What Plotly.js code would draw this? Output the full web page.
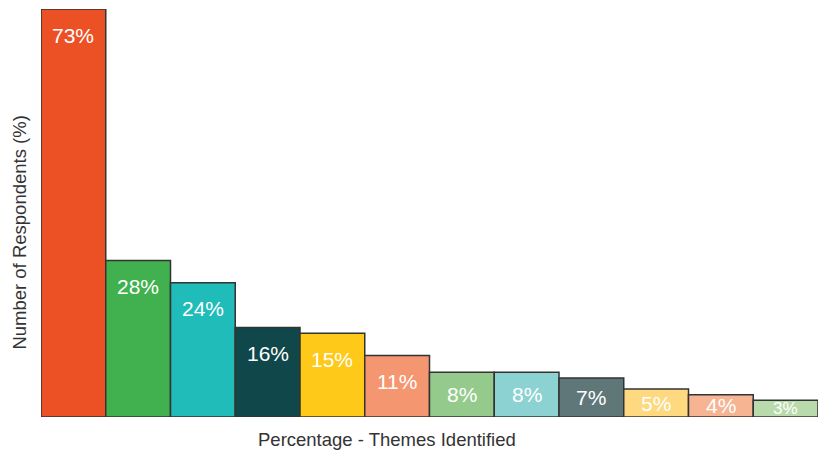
<!DOCTYPE html>
<html>
<head>
<meta charset="utf-8">
<script src="https://cdn.plot.ly/plotly-3.0.1.min.js"></script>
<style>
html,body{margin:0;padding:0;background:#fff;}
#chart{width:826px;height:451px;}
</style>
</head>
<body>
<div id="chart"></div>
<script>
var categories = ['Theme 1','Theme 2','Theme 3','Theme 4','Theme 5','Theme 6','Theme 7','Theme 8','Theme 9','Theme 10','Theme 11','Theme 12'];
var values = [73, 28, 24, 16, 15, 11, 8, 8, 7, 5, 4, 3];
var labels = ['73%','28%','24%','16%','15%','11%','8%','8%','7%','5%','4%','3%'];
var colors = ['#EC5125','#40B14E','#1FBCB9','#10474A','#FEC918','#F49670','#94CB8C','#8CD2D2','#5F7778','#FED980','#F6B493','#B9DBAB'];

var xTitle = 'Percentage - Themes Identified';
var yTitle = 'Number of Respondents (%)';

var FONT = '"Liberation Sans", Arial, Helvetica, sans-serif';

var trace = {
  type: 'bar',
  x: categories,
  y: values,
  width: 1,
  marker: {color: colors, line: {color: '#333333', width: 1.5}},
  hoverinfo: 'none'
};

var annotations = values.map(function(v, i){
  var small = v < 9.3;
  return {
    x: categories[i], y: small ? v / 2 : v,
    xref: 'x', yref: 'y',
    text: labels[i], showarrow: false,
    xanchor: 'center', yanchor: 'middle',
    yshift: small ? 0 : -26,
    font: {family: FONT, size: v < 4 ? 17 : 21, color: '#ffffff'}
  };
});

annotations.push({
  xref: 'paper', yref: 'paper', x: 0.4447, y: -0.054,
  text: xTitle, showarrow: false, xanchor: 'center', yanchor: 'middle',
  font: {family: FONT, size: 18.5, color: '#333333'}
});
annotations.push({
  xref: 'paper', yref: 'paper', x: -0.027, y: 0.452,
  text: yTitle, showarrow: false, xanchor: 'center', yanchor: 'middle', textangle: -90,
  font: {family: FONT, size: 18.5, color: '#333333'}
});

var layout = {
  width: 826, height: 451,
  margin: {l: 41, r: 8, t: 9, b: 34, pad: 0},
  paper_bgcolor: '#ffffff', plot_bgcolor: '#ffffff',
  showlegend: false,
  bargap: 0,
  xaxis: {showticklabels: false, showgrid: false, zeroline: false, showline: false, ticks: '', range: [-0.5, 11.5], fixedrange: true},
  yaxis: {showticklabels: false, showgrid: false, zeroline: false, showline: false, ticks: '', range: [0, 73], fixedrange: true},
  annotations: annotations,
  font: {family: FONT}
};

Plotly.newPlot('chart', [trace], layout, {displayModeBar: false, staticPlot: true});
</script>
</body>
</html>
